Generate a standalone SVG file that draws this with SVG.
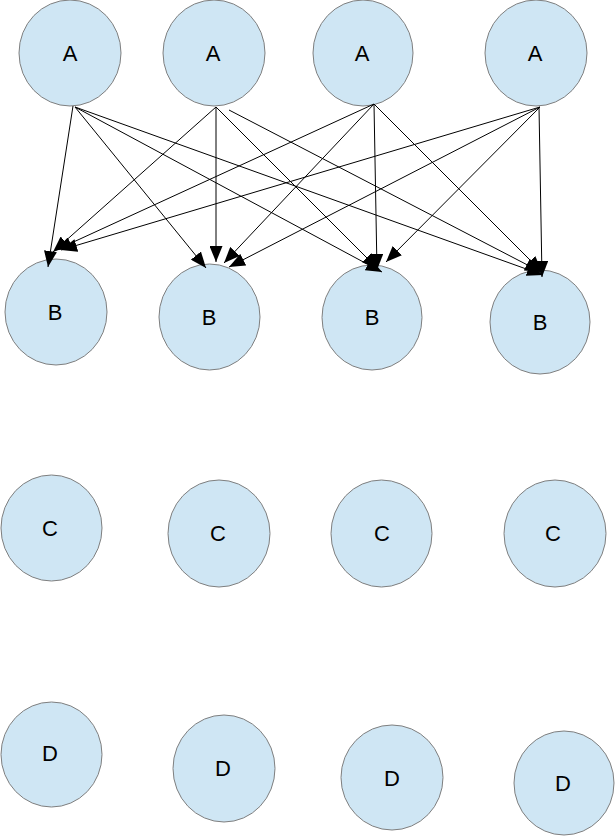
<svg xmlns="http://www.w3.org/2000/svg" width="615" height="836" viewBox="0 0 615 836">
<style>
.n ellipse{fill:#cfe6f4;stroke:#7f7f7f;stroke-width:1}
.n text{font-family:"Liberation Sans",Arial,sans-serif;font-size:22px;fill:#000;text-anchor:middle}
.e line{stroke:#000;stroke-width:1;marker-end:url(#ah)}
</style>
<defs>
<marker id="ah" markerUnits="userSpaceOnUse" markerWidth="16" markerHeight="13" refX="16" refY="6.5" orient="auto">
<path d="M0,0 L16,6.5 L0,13 z" fill="#000"/>
</marker>
</defs>
<rect width="615" height="836" fill="#fff"/>
<g class="n">
<g id="A1"><ellipse cx="70" cy="53" rx="51" ry="53"/><text x="70" y="61">A</text></g>
<g id="A2"><ellipse cx="214" cy="53" rx="51" ry="53"/><text x="213" y="61">A</text></g>
<g id="A3"><ellipse cx="363" cy="53" rx="50" ry="53"/><text x="362" y="61">A</text></g>
<g id="A4"><ellipse cx="536" cy="53" rx="51" ry="53"/><text x="535" y="61">A</text></g>
<g id="B1"><ellipse cx="56" cy="312" rx="51" ry="53"/><text x="55" y="320">B</text></g>
<g id="B2"><ellipse cx="209.5" cy="317" rx="50.5" ry="53"/><text x="209" y="325">B</text></g>
<g id="B3"><ellipse cx="372" cy="317.5" rx="50" ry="52.5"/><text x="372" y="325">B</text></g>
<g id="B4"><ellipse cx="540" cy="322" rx="50" ry="52"/><text x="540" y="330">B</text></g>
<g id="C1"><ellipse cx="51.5" cy="528" rx="50.5" ry="53"/><text x="50" y="536">C</text></g>
<g id="C2"><ellipse cx="219" cy="533.5" rx="51" ry="53.5"/><text x="218" y="541">C</text></g>
<g id="C3"><ellipse cx="381.5" cy="533.5" rx="50.5" ry="53.5"/><text x="382" y="541">C</text></g>
<g id="C4"><ellipse cx="555" cy="533.5" rx="51" ry="53.5"/><text x="553" y="541">C</text></g>
<g id="D1"><ellipse cx="51.5" cy="754.5" rx="50.5" ry="52.5"/><text x="50" y="761">D</text></g>
<g id="D2"><ellipse cx="224" cy="768.5" rx="51" ry="53.5"/><text x="223" y="776">D</text></g>
<g id="D3"><ellipse cx="392" cy="777.5" rx="51" ry="52.5"/><text x="392" y="786">D</text></g>
<g id="D4"><ellipse cx="564" cy="783" rx="50" ry="52"/><text x="563" y="791">D</text></g>
</g>
<g class="e">
<line x1="73" y1="106" x2="48" y2="267"/>
<line x1="75" y1="107" x2="206" y2="268"/>
<line x1="75" y1="107" x2="382" y2="272"/>
<line x1="75" y1="107" x2="543" y2="275"/>
<line x1="216" y1="107" x2="53" y2="252"/>
<line x1="216" y1="107" x2="216" y2="262"/>
<line x1="216" y1="107" x2="378" y2="269"/>
<line x1="229" y1="110" x2="541" y2="272"/>
<line x1="374" y1="104" x2="56" y2="250"/>
<line x1="374" y1="104" x2="224" y2="263"/>
<line x1="374" y1="104" x2="377" y2="270"/>
<line x1="374" y1="104" x2="542" y2="272"/>
<line x1="540" y1="107" x2="61" y2="250"/>
<line x1="540" y1="107" x2="229" y2="267"/>
<line x1="540" y1="107" x2="386" y2="262"/>
<line x1="539" y1="107" x2="542" y2="277"/>
</g>
</svg>
